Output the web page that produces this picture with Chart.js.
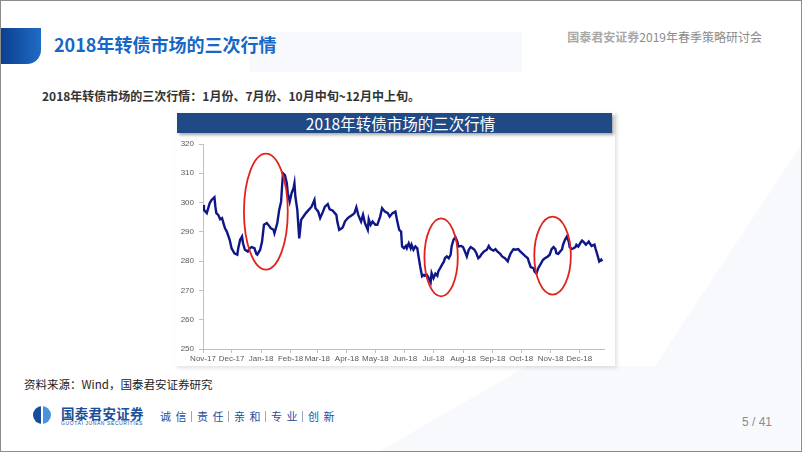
<!DOCTYPE html>
<html>
<head>
<meta charset="utf-8">
<script src="https://cdn.jsdelivr.net/npm/chart.js@4.4.0/dist/chart.umd.min.js"></script>
<style>
  html, body { margin: 0; padding: 0; background: #fff; }
  body { width: 802px; height: 452px; position: relative; overflow: hidden;
         font-family: "Noto Sans CJK SC", "Noto Sans", sans-serif; }
  .border { position: absolute; left: 0; top: 0; width: 800px; height: 450px; border: 1px solid #8c8c8c; z-index: 20; pointer-events: none; }
  .bg { position: absolute; background: #f7f9fc; }
  .tab { position: absolute; left: 1px; top: 28px; width: 40px; height: 36px;
         background: linear-gradient(90deg, #0c3f8f 0%, #1f6cc4 100%); border-radius: 0 0 14px 0; }
  .title { position: absolute; left: 54px; top: 33px; font-size: 18px; line-height: 22px; font-weight: bold; color: #1767c6; }
  .conf { position: absolute; right: 40px; top: 29px; font-size: 12px; line-height: 16px; color: #8a8a8a; }
  .conf b { color: #a9a9a9; font-weight: bold; }
  .sub { position: absolute; left: 42px; top: 88px; font-size: 12px; line-height: 16px; font-weight: bold; color: #333; }
  .box { position: absolute; left: 175px; top: 111px; width: 440px; height: 255px; background: #fff;
         box-shadow: 2px 2px 4px rgba(0,0,0,0.12); }
  .bar { position: absolute; left: 177px; top: 113px; width: 435px; height: 20px; background: #1f4a85;
         color: #fff; font-size: 15.5px; line-height: 20px; text-align: center; box-shadow: 2px 2px 3px rgba(0,0,0,0.35); }
  .bar span { position: relative; left: 6px; }
  #wrap { position: absolute; left: 177px; top: 134px; width: 436px; height: 230px; }
  .src { position: absolute; left: 24px; top: 376px; font-size: 11.5px; line-height: 16px; color: #222; }
  .logo { position: absolute; left: 33px; top: 406px; width: 18px; height: 18px; border-radius: 50%;
          background: linear-gradient(90deg, #164c9e 0 44%, #fff 44% 56%, #4a93dc 56% 100%); }
  .brand { position: absolute; left: 61px; top: 406px; font-size: 13.5px; line-height: 15px; font-weight: bold; color: #1b4f9c; letter-spacing: 0.3px; }
  .brand-en { position: absolute; left: 61px; top: 420px; font-family: "Liberation Sans", sans-serif; font-size: 5px; line-height: 6px; color: #1b4f9c; letter-spacing: 0.6px; }
  .slogan { position: absolute; left: 160px; top: 408px; font-size: 11px; line-height: 16px; color: #1b4f9c; white-space: nowrap; }
  .slogan span { letter-spacing: 4.5px; }
  .slogan i { display: inline-block; width: 1px; height: 11px; background: #9aa8bd; margin: 0 5px 0 0; vertical-align: -1px; }
  .page { position: absolute; left: 742px; top: 415px; font-family: "Liberation Sans", sans-serif; font-size: 12px; line-height: 15px; color: #8c8c8c; }
</style>
</head>
<body>
<div class="bg" style="left:250px;top:32px;width:272px;height:40px;"></div>
<div class="bg" style="left:380px;top:366px;width:420px;height:85px;clip-path:polygon(0 100%,35% 0,100% 0,100% 100%);"></div>
<div class="bg" style="left:615px;top:120px;width:186px;height:250px;clip-path:polygon(20% 100%,100% 10%,100% 100%);"></div>
<div class="tab"></div>
<div class="title">2018年转债市场的三次行情</div>
<div class="conf"><b>国泰君安证券</b>2019年春季策略研讨会</div>
<div class="sub">2018年转债市场的三次行情：1月份、7月份、10月中旬~12月中上旬。</div>
<div class="box"></div>
<div class="bar"><span>2018年转债市场的三次行情</span></div>
<div id="wrap"><canvas id="cbChart"></canvas></div>
<div class="src">资料来源：Wind，国泰君安证券研究</div>
<div class="logo"></div>
<div class="brand">国泰君安证券</div>
<div class="brand-en">GUOTAI JUNAN SECURITIES</div>
<div class="slogan"><span>诚信</span><i></i><span>责任</span><i></i><span>亲和</span><i></i><span>专业</span><i></i><span>创新</span></div>
<div class="page">5 / 41</div>
<div class="border"></div>

<script>
// ── Data (days counted from 2017-11-01) ──────────────────────
const dayIdx = [
  0, 1, 4, 7, 9, 12, 13, 14, 16, 18, 20, 22, 23, 25, 28, 30, 33, 36, 37, 39,
  41, 42, 44, 47, 49, 51, 54, 56, 57, 60, 62, 64, 67, 70, 71, 74, 75, 78, 80, 82,
  83, 84, 86, 88, 89, 91, 93, 95, 96, 97, 99, 101, 102, 103, 106, 108, 111, 114, 117, 118,
  121, 123, 126, 128, 131, 133, 136, 140, 141, 143, 146, 147, 149, 152, 154, 157, 159, 161, 163, 166,
  168, 170, 173, 174, 176, 178, 181, 183, 186, 188, 191, 194, 196, 199, 202, 204, 206, 208, 209, 211,
  213, 214, 216, 218, 219, 221, 223, 225, 226, 228, 230, 232, 233, 235, 237, 239, 240, 242, 244, 246,
  247, 249, 251, 253, 254, 256, 258, 260, 261, 263, 265, 267, 268, 271, 273, 275, 277, 279, 281, 283,
  285, 287, 289, 291, 292, 295, 298, 300, 302, 305, 307, 309, 312, 314, 317, 320, 321, 323, 326, 328,
  331, 333, 335, 338, 341, 342, 344, 347, 348, 350, 352, 355, 357, 359, 362, 364, 366, 368, 370, 371,
  373, 375, 377, 378, 380, 382, 384, 385, 387, 389, 391, 392, 394, 396, 398, 400, 402, 405, 406, 408,
  411, 412, 414, 416, 418, 419
];
const cbIndex = [
  299.2, 297.5, 296.4, 299.8, 300.9, 301.8, 298.6, 296.4, 295.8, 294.3, 294.7, 292.4, 291.3, 290.1, 287.3, 284.4, 282.7, 282.2, 284.4, 287.3,
  288.4, 286.1, 283.9, 283.3, 284.4, 284.8, 284.4, 282.5, 282.2, 283.9, 286.7, 292.4, 293.0, 291.8, 291.3, 290.7, 289.5, 293.0, 297.5, 300.3,
  305.5, 310.0, 309.4, 306.6, 303.2, 300.3, 303.2, 304.9, 306.6, 302.0, 297.5, 287.8, 290.7, 294.1, 295.5, 296.4, 297.5, 298.6, 300.9, 298.1,
  296.9, 294.7, 296.9, 298.6, 299.5, 297.7, 297.3, 295.8, 293.5, 290.7, 291.3, 291.8, 293.5, 294.7, 295.2, 295.8, 296.4, 298.4, 295.8, 293.5,
  295.8, 293.0, 290.7, 294.3, 292.4, 293.5, 292.4, 292.4, 295.2, 298.1, 296.9, 296.4, 295.2, 296.4, 296.9, 293.5, 290.7, 290.1, 285.0, 284.4,
  285.2, 284.4, 286.1, 284.4, 285.6, 283.9, 285.0, 284.4, 282.2, 278.2, 274.8, 275.3, 275.0, 275.3, 274.2, 272.8, 275.9, 274.2, 275.7, 275.0,
  276.5, 277.6, 278.8, 279.9, 281.0, 281.6, 281.0, 282.2, 285.0, 287.3, 288.2, 286.7, 285.0, 285.2, 284.8, 283.3, 281.6, 283.9, 284.8, 284.4,
  283.9, 282.7, 281.0, 281.6, 282.2, 283.3, 283.9, 285.2, 284.1, 283.6, 284.1, 283.3, 282.5, 281.6, 281.0, 279.9, 281.0, 282.7, 284.1, 283.9,
  284.1, 283.3, 282.7, 281.8, 281.0, 279.9, 278.0, 277.6, 276.5, 275.8, 277.6, 279.3, 280.5, 281.0, 281.6, 282.2, 284.1, 284.8, 284.1, 282.7,
  282.5, 283.3, 284.1, 285.6, 287.3, 288.4, 286.7, 284.8, 284.1, 284.4, 284.8, 285.6, 285.0, 286.1, 287.0, 286.4, 285.6, 286.7, 286.1, 285.2,
  285.6, 284.4, 282.2, 279.9, 280.5, 279.9
];

// month ticks on the date axis
const monthDays   = [0, 30, 61, 92, 120, 151, 181, 212, 242, 273, 304, 334, 365, 395];
const monthLabels = ["Nov-17","Dec-17","Jan-18","Feb-18","Mar-18","Apr-18","May-18",
                     "Jun-18","Jul-18","Aug-18","Sep-18","Oct-18","Nov-18","Dec-18"];

// red rings: centre day, centre value, half width (days), half height (points)
const ringDay   = [66, 250, 367];
const ringValue = [296.9, 281.3, 281.9];
const ringRx    = [23, 17.5, 19.2];
const ringRy    = [19.8, 13.3, 13.3];

// ── Ring overlay ──────────────────────────────────────────────
const ringPlugin = {
  id: "rings",
  afterDatasetsDraw(chart) {
    const { ctx, scales: { x, y } } = chart;
    ctx.save();
    ctx.strokeStyle = "#e3221c";
    ctx.lineWidth = 1.8;
    ringDay.forEach((d, i) => {
      const cx = x.getPixelForValue(d);
      const cy = y.getPixelForValue(ringValue[i]);
      const rx = Math.abs(x.getPixelForValue(d + ringRx[i]) - cx);
      const ry = Math.abs(y.getPixelForValue(ringValue[i] + ringRy[i]) - cy);
      ctx.beginPath();
      ctx.ellipse(cx, cy, rx, ry, 0, 0, Math.PI * 2);
      ctx.stroke();
    });
    ctx.restore();
  }
};

const tickFont = { family: "'Liberation Sans', sans-serif", size: 8 };

new Chart(document.getElementById("cbChart"), {
  type: "line",
  data: {
    datasets: [{
      data: dayIdx.map((d, i) => ({ x: d, y: cbIndex[i] })),
      borderColor: "#0e1688",
      borderWidth: 2.4,
      pointRadius: 0,
      tension: 0,
      fill: false
    }]
  },
  options: {
    responsive: true, maintainAspectRatio: false, animation: false,
    layout: { padding: { top: 10, right: 9, left: 0, bottom: 0 } },
    plugins: { legend: { display: false }, tooltip: { enabled: false } },
    scales: {
      x: {
        type: "linear", min: 0, max: 421,
        afterBuildTicks: s => { s.ticks = monthDays.map(v => ({ value: v })); },
        afterFit: s => { s.height = 15; },
        grid: { drawOnChartArea: false, tickLength: 4, color: "#bfbfbf" },
        border: { color: "#bfbfbf" },
        ticks: { color: "#595959", font: tickFont, padding: 1, maxRotation: 0, autoSkip: false,
                 callback: (v, i) => monthLabels[i] }
      },
      y: {
        min: 250, max: 320,
        afterFit: s => { s.width = 26; },
        grid: { drawOnChartArea: false, tickLength: 4, color: "#bfbfbf" },
        border: { color: "#bfbfbf" },
        ticks: { stepSize: 10, color: "#595959", font: tickFont, padding: 5 }
      }
    }
  },
  plugins: [ringPlugin]
});
</script>
</body>
</html>
